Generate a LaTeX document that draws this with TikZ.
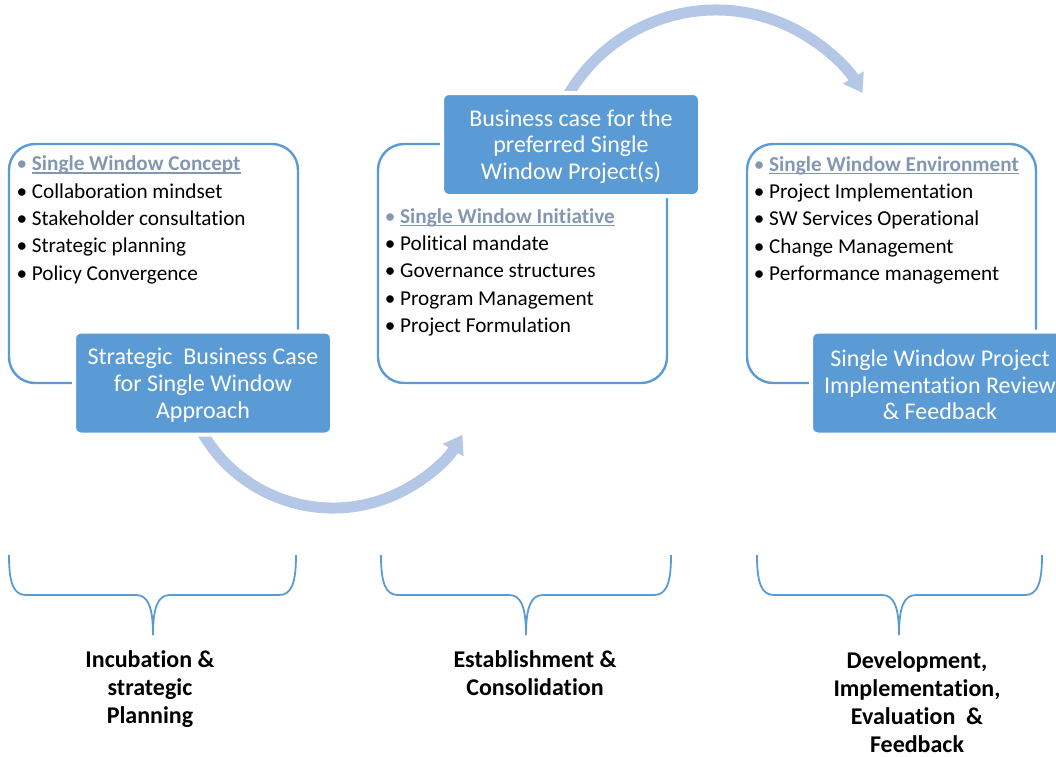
\documentclass[tikz,border=0pt]{standalone}
\usepackage{fontspec}
\setmainfont{Carlito}[Ligatures=CommonOff]
\usetikzlibrary{arrows.meta}
\definecolor{acc}{HTML}{5B9BD5}
\definecolor{arr}{HTML}{B4C7E7}
\definecolor{hdr}{HTML}{8497B0}
\newcommand\myul[1]{\setbox0\hbox{#1}\rlap{\rule[-2.8pt]{\wd0}{1.3pt}}\box0}
\newcommand\bl{\llap{\makebox[20pt][c]{\textbullet}}}
\newcommand\hd[1]{{\color{hdr}\bl\bfseries\myul{#1}}}
\newcommand\brc[3]{\draw[brace] (#1,555) .. controls (#1,582) and (#1+4,595) .. (#1+17,595) -- (#3-17,595) .. controls (#3-5,595) and (#3,607) .. (#3,635) .. controls (#3,607) and (#3+5,595) .. (#3+17,595) -- (#2-17,595) .. controls (#2-4,595) and (#2,582) .. (#2,555);}
\begin{document}
\begin{tikzpicture}[x=1pt,y=-1pt,
  outbox/.style={draw=acc, line width=2.4pt, rounded corners=26pt, minimum width=289pt, minimum height=239pt, inner sep=0pt},
  fillbox/.style={fill=acc, draw=white, line width=4pt, rounded corners=7pt, minimum width=258pt, minimum height=103pt, inner sep=0pt},
  boxtxt/.style={inner sep=0pt, text=white, align=center, font=\fontsize{24}{26.7}\selectfont},
  listtxt/.style={anchor=base west, inner sep=0pt, align=left, font=\fontsize{21.2}{27.3}\selectfont},
  cyc/.style={draw=arr, line width=11pt, -{Triangle[width=23pt,length=18pt]}},
  brace/.style={draw=acc, line width=1.8pt},
  lbl/.style={anchor=base, inner sep=0pt, align=center, font=\bfseries\fontsize{24}{28}\selectfont}]
\useasboundingbox (0,0) rectangle (1056,756);
\clip (0,0) rectangle (1056,756);
% cycle arrows
\coordinate (lc) at (333,357);
\coordinate (uc) at (716,181);
\draw[cyc] (lc) ++(155:151) arc[start angle=155,end angle=31,radius=151];
\draw[cyc] (uc) ++(208:171) arc[start angle=208,end angle=329,radius=171];
% outline boxes
\node[outbox] (o1) at (153.5,263.5) {};
\node[outbox] (o2) at (522.5,263.5) {};
\node[outbox] (o3) at (891.5,263.5) {};
% filled boxes
\node[fillbox] (f1) at (203,383) {};
\node[fillbox] (f2) at (571,144.5) {};
\node[fillbox] (f3) at (940,383) {};
\node[boxtxt] (f1t) at (203,385) {Strategic~ Business Case\\for Single Window\\Approach};
\node[boxtxt] (f2t) at (571,146.5) {Business case for the\\preferred Single\\Window Project(s)};
\node[boxtxt] (f3t) at (940,385) {Single Window Project\\Implementation Review\\\& Feedback};
% lists (anchor base = last line)
\node[listtxt] (l1) at (31.7,280) {\hd{Single Window Concept}\\\bl Collaboration mindset\\\bl Stakeholder consultation\\\bl Strategic planning\\\bl Policy Convergence};
\node[listtxt] (l2) at (400,332.5) {\hd{Single Window Initiative}\\\bl Political mandate\\\bl Governance structures\\\bl Program Management\\\bl Project Formulation};
\node[listtxt] (l3) at (769,280.5) {\hd{Single Window Environment}\\\bl Project Implementation\\\bl SW Services Operational\\\bl Change Management\\\bl Performance management};
% braces
\brc{9}{296}{153}
\brc{381}{671}{526}
\brc{757}{1042}{899}
% labels (anchor base = last line)
\node[lbl] (t1) at (150,723) {Incubation \&\\strategic\\Planning};
\node[lbl] (t2) at (535,695) {Establishment \&\\Consolidation};
\node[lbl] (t3) at (917,752) {Development,\\Implementation,\\Evaluation~ \&\\Feedback};
\end{tikzpicture}
\end{document}
